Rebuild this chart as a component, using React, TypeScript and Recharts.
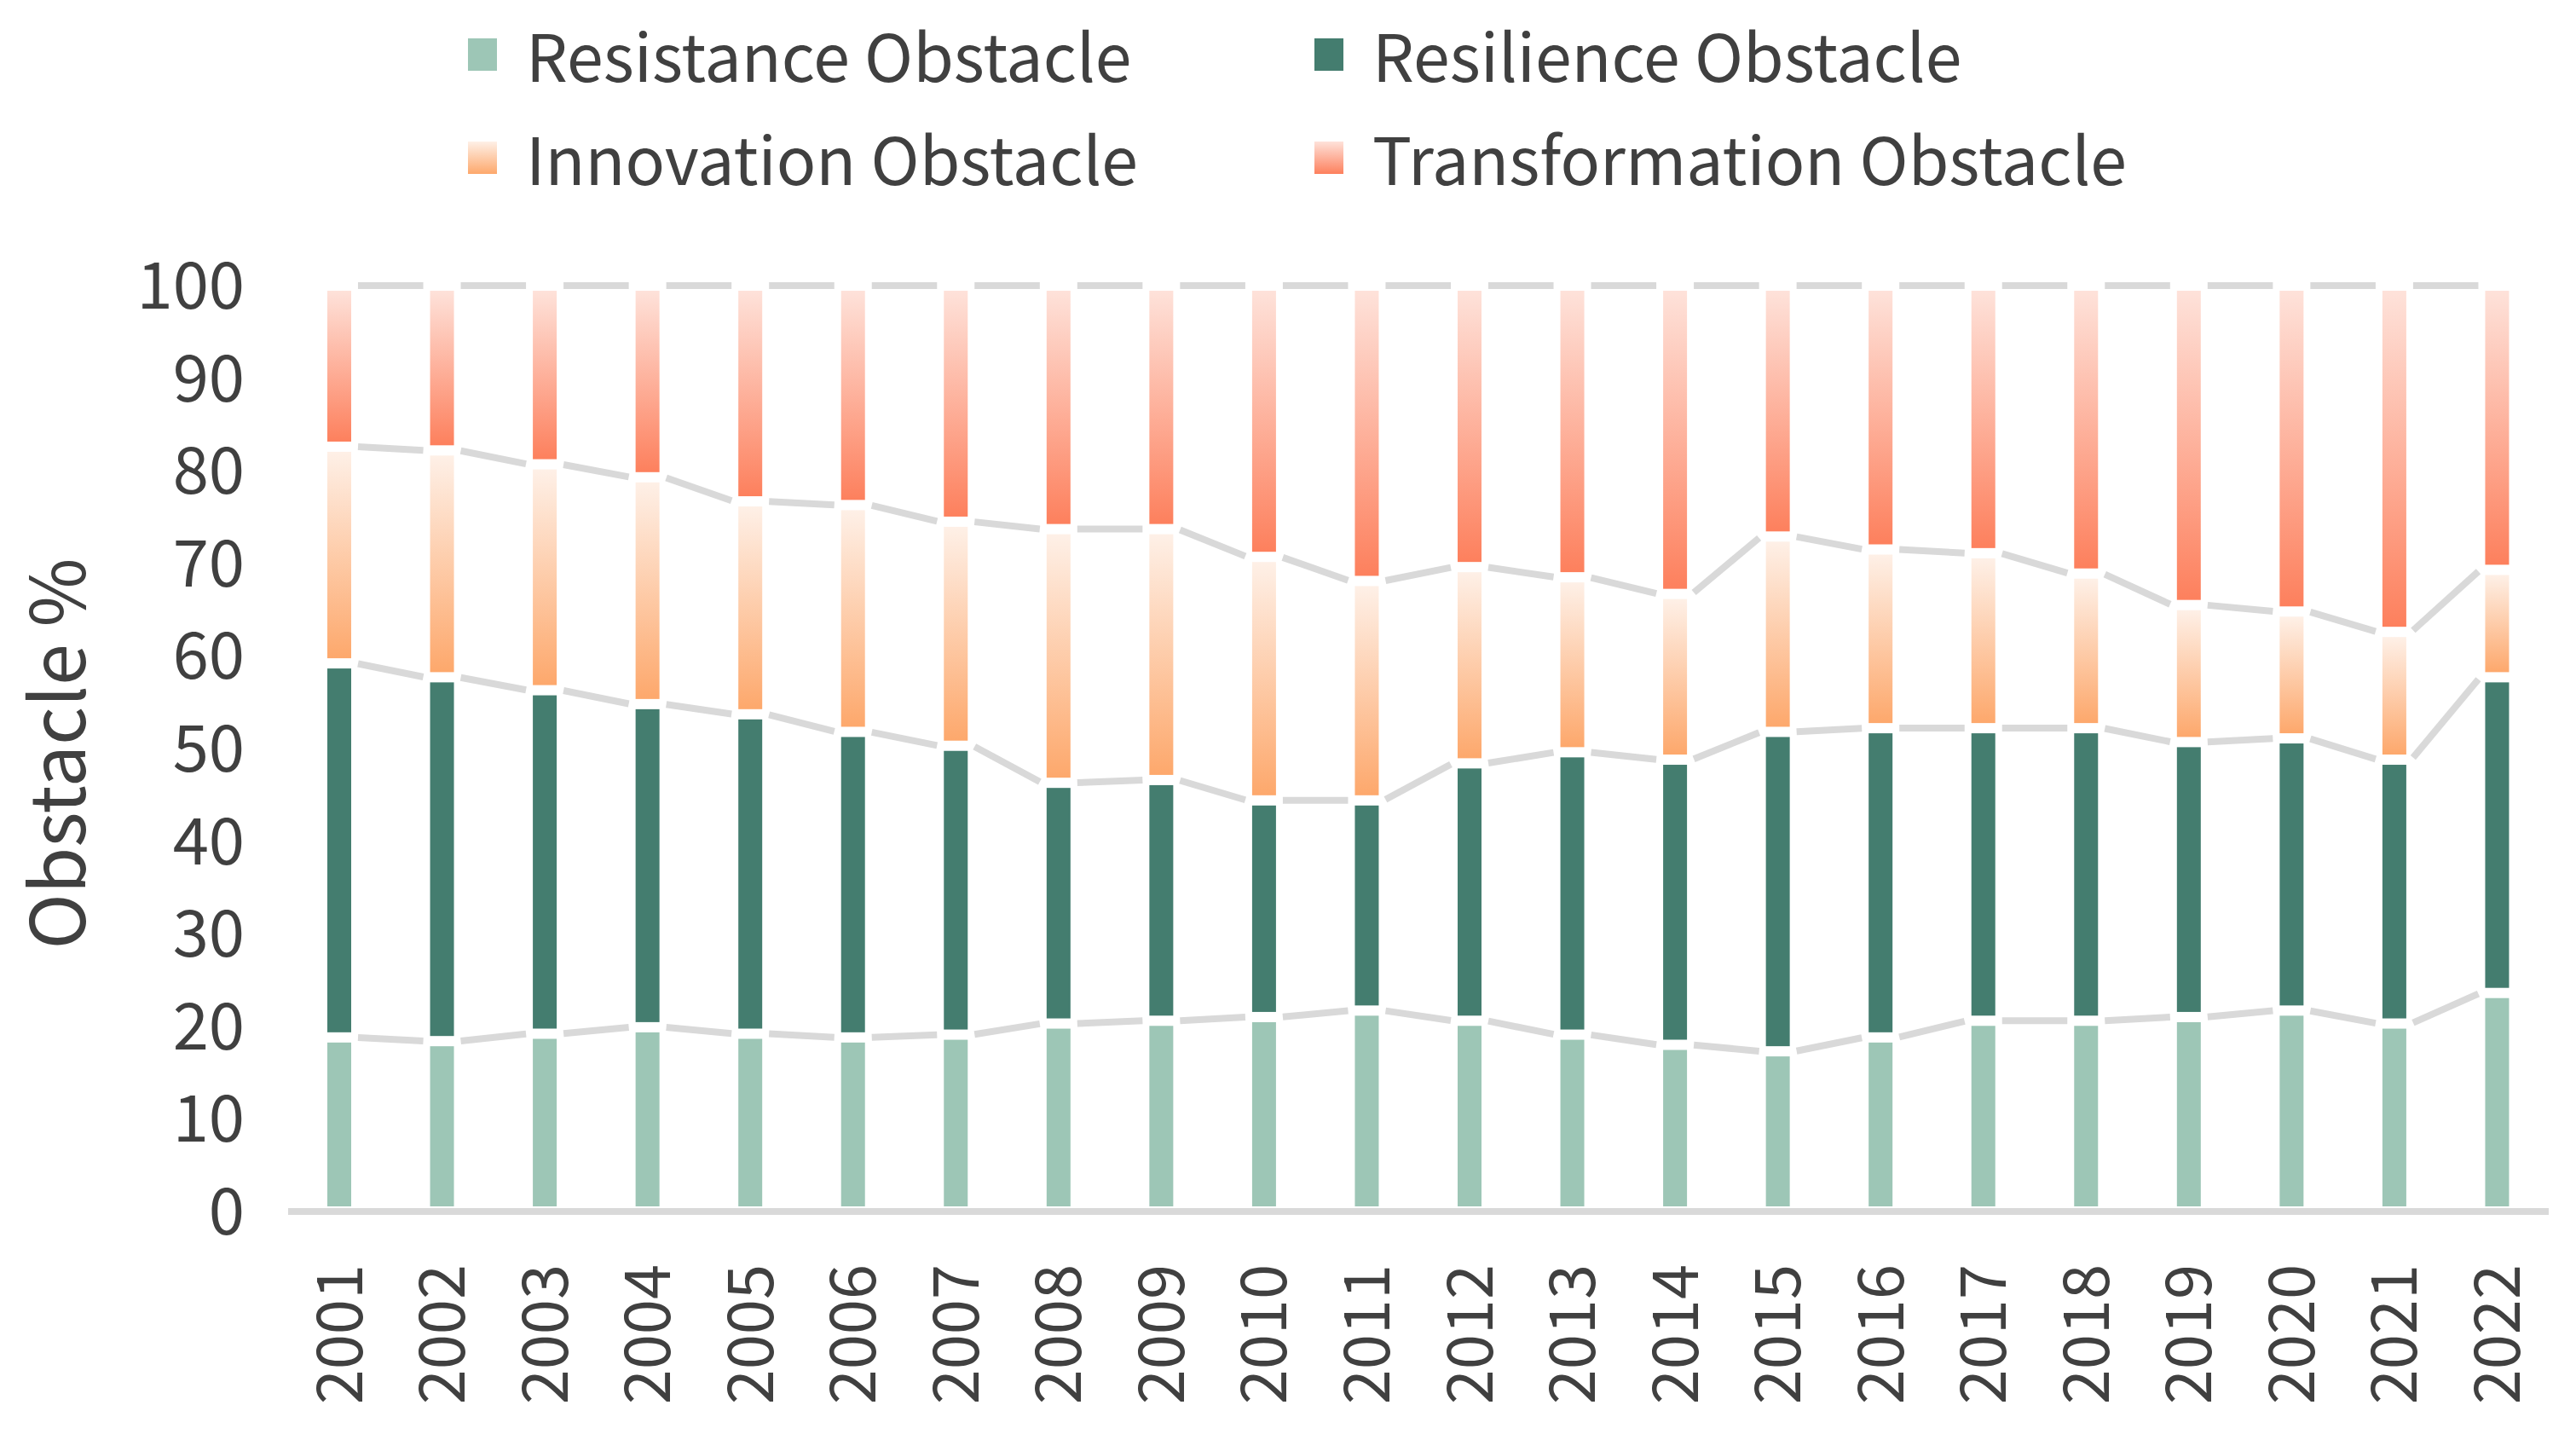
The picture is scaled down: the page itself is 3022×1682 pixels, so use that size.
import React from 'react';
import { BarChart, Bar, XAxis, YAxis, Legend, Text } from 'recharts';

// ---------- data ----------
const years = ['2001', '2002', '2003', '2004', '2005', '2006', '2007', '2008', '2009', '2010', '2011',
  '2012', '2013', '2014', '2015', '2016', '2017', '2018', '2019', '2020', '2021', '2022'];
const resistance = [18.8, 18.4, 19.2, 19.9, 19.2, 18.8, 19.1, 20.3, 20.6, 21.0, 21.7,
  20.6, 19.1, 18.0, 17.3, 18.8, 20.6, 20.6, 21.0, 21.7, 20.3, 23.6];
const resilience = [40.4, 39.3, 37.1, 34.9, 34.5, 33.0, 31.2, 26.0, 26.0, 23.4, 22.7,
  27.8, 30.5, 30.8, 34.5, 33.4, 31.6, 31.6, 29.7, 29.4, 28.5, 34.1];
const innovation = [23.4, 24.5, 24.4, 24.5, 23.0, 24.5, 24.2, 27.4, 27.1, 26.3, 23.7,
  21.2, 18.9, 17.9, 21.1, 19.3, 18.9, 16.7, 14.8, 13.7, 13.8, 11.6];
const transformation = [17.4, 17.8, 19.3, 20.7, 23.3, 23.7, 25.5, 26.3, 26.3, 29.3, 31.9,
  30.4, 31.5, 33.3, 27.1, 28.5, 28.9, 31.1, 34.5, 35.2, 37.4, 30.7];
const yTicks = [0, 10, 20, 30, 40, 50, 60, 70, 80, 90, 100];
const seriesKeys = ['resistance', 'resilience', 'innovation', 'transformation'];
const seriesNames = ['Resistance Obstacle', 'Resilience Obstacle', 'Innovation Obstacle', 'Transformation Obstacle'];
const yTitle = 'Obstacle %';

// ---------- derived ----------
const data = years.map((year, i) => ({
  year,
  resistance: resistance[i],
  resilience: resilience[i],
  innovation: innovation[i],
  transformation: transformation[i],
}));
const valuesByKey: Record<string, number[]> = { resistance, resilience, innovation, transformation };
const cumByKey: Record<string, number[]> = {};
{
  const running = years.map(() => 0);
  seriesKeys.forEach((k) => {
    cumByKey[k] = valuesByKey[k].map((v, i) => (running[i] += v));
  });
}

// ---------- styles ----------
const FONT = '"Noto Sans CJK SC", "Noto Sans", sans-serif';
const TEXT = '#404040';
const LINE = '#D9D9D9';
const W = 3022;
const H = 1682;
const INSET = 6;
const TRIM = 2;
const styleByKey: Record<string, { solid?: string; top?: string; bottom?: string }> = {
  resistance: { solid: '#9DC6B6' },
  resilience: { solid: '#447D6F' },
  innovation: { top: '#FEF0E7', bottom: '#FDA86C' },
  transformation: { top: '#FEE2DA', bottom: '#FD805D' },
};
const fillFor = (k: string) => (styleByKey[k].solid ? styleByKey[k].solid : `url(#grad-${k})`);

const prevEdge: Record<string, number> = {};

function makeShape(key: string) {
  const vals = valuesByKey[key];
  const cum = cumByKey[key];
  return (props: any) => {
    const { x, y, width, height, index } = props;
    const ppu = height / vals[index];
    const zeroY = y + cum[index] * ppu;
    let connector: React.ReactNode = null;
    if (index > 0 && prevEdge[key] !== undefined) {
      const x0 = prevEdge[key];
      const y0 = zeroY - cum[index - 1] * ppu;
      const x1 = x;
      const y1 = y;
      const span = x1 - x0;
      if (span > 2 * TRIM) {
        const a = TRIM / span;
        const b = 1 - a;
        connector = (
          <line
            x1={x0 + span * a}
            y1={y0 + (y1 - y0) * a}
            x2={x0 + span * b}
            y2={y0 + (y1 - y0) * b}
            stroke={LINE}
            strokeWidth={8}
          />
        );
      }
    }
    prevEdge[key] = x + width;
    return (
      <g>
        {connector}
        <rect
          x={x + INSET}
          y={y + INSET}
          width={Math.max(0, width - 2 * INSET)}
          height={Math.max(0, height - 2 * INSET)}
          fill={fillFor(key)}
        />
      </g>
    );
  };
}

const XTick = (props: any) => {
  const { x, y, payload } = props;
  return (
    <Text
      x={x}
      y={y}
      angle={-90}
      textAnchor="end"
      verticalAnchor="middle"
      fontSize={74}
      fontFamily={FONT}
      fill={TEXT}
    >
      {payload.value}
    </Text>
  );
};

const YTitle = (props: any) => {
  const vb = props.viewBox || { x: 0, y: 0, width: 0, height: 0 };
  const cx = vb.x + 68;
  const cy = vb.y + vb.height / 2 + 6;
  return (
    <text
      x={cx}
      y={cy}
      dy="0.36em"
      transform={`rotate(-90 ${cx} ${cy})`}
      textAnchor="middle"
      fontSize={88}
      fontFamily={FONT}
      fill={TEXT}
    >
      {yTitle}
    </text>
  );
};

const legendPos = [
  { left: 549, top: 45 },
  { left: 1542, top: 45 },
  { left: 549, top: 166 },
  { left: 1542, top: 166 },
];

const LegendBox = () => (
  <div style={{ position: 'relative', width: W, height: 240, fontFamily: FONT }}>
    {seriesKeys.map((k, i) => {
      const st = styleByKey[k];
      const bg = st.solid ? st.solid : `linear-gradient(to bottom, ${st.top}, ${st.bottom})`;
      return (
        <div key={k} style={{ position: 'absolute', left: legendPos[i].left, top: legendPos[i].top, height: 38 }}>
          <div style={{ position: 'absolute', left: 0, top: 0, width: 34, height: 38, background: bg }} />
          <div
            style={{
              position: 'absolute',
              left: 68,
              top: 17,
              transform: 'translateY(-50%)',
              whiteSpace: 'nowrap',
              fontSize: 77,
              lineHeight: '77px',
              color: TEXT,
            }}
          >
            {seriesNames[i]}
          </div>
        </div>
      );
    })}
  </div>
);

export default function App() {
  return (
    <div style={{ position: 'absolute', left: 0, top: 0, width: W, height: H, background: '#fff' }}>
      <BarChart
        width={W}
        height={H}
        data={data}
        margin={{ top: 335, right: 32, bottom: 0, left: 0 }}
        barSize={40}
      >
        <defs>
          {seriesKeys
            .filter((k) => !styleByKey[k].solid)
            .map((k) => (
              <linearGradient key={k} id={`grad-${k}`} x1="0" y1="0" x2="0" y2="1">
                <stop offset="0%" stopColor={styleByKey[k].top} />
                <stop offset="100%" stopColor={styleByKey[k].bottom} />
              </linearGradient>
            ))}
        </defs>
        <XAxis
          dataKey="year"
          interval={0}
          height={261}
          tickSize={0}
          tickMargin={62}
          tickLine={false}
          axisLine={{ stroke: LINE, strokeWidth: 8 }}
          tick={<XTick />}
        />
        <YAxis
          type="number"
          domain={[0, 100]}
          ticks={yTicks}
          interval={0}
          width={338}
          tickSize={0}
          tickMargin={51}
          tickLine={false}
          axisLine={false}
          tick={{ fill: TEXT, fontSize: 76, fontFamily: FONT }}
          label={{ value: yTitle, content: (p: any) => <YTitle {...p} /> }}
        />
        <Legend
          layout="vertical"
          align="center"
          verticalAlign="middle"
          wrapperStyle={{ top: 0, left: 0, width: W }}
          content={() => <LegendBox />}
        />
        {seriesKeys.map((k, i) => (
          <Bar
            key={k}
            dataKey={k}
            name={seriesNames[i]}
            stackId="s"
            fill={fillFor(k)}
            isAnimationActive={false}
            shape={makeShape(k)}
          />
        ))}
      </BarChart>
    </div>
  );
}
